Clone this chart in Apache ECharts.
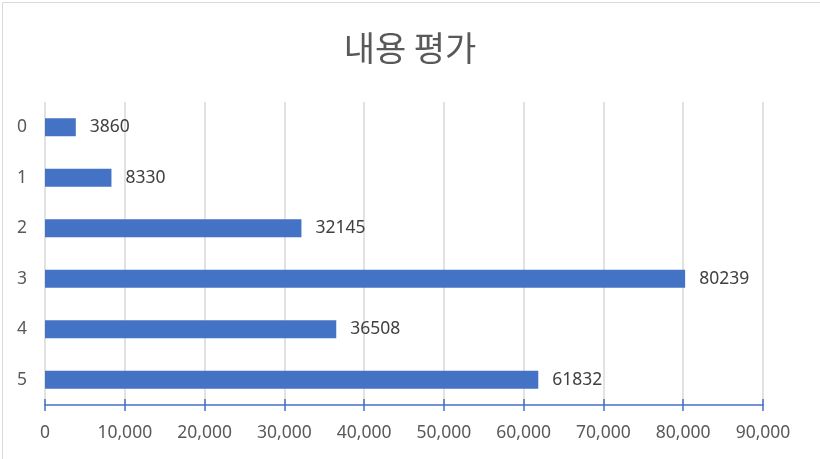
<!DOCTYPE html>
<html><head><meta charset="utf-8">
<script src="https://cdn.jsdelivr.net/npm/echarts@6/dist/echarts.min.js"></script>
<style>html,body{margin:0;padding:0;background:#fff}#c{width:820px;height:459px}</style>
</head><body><div id="c"></div>
<script>
const title = '내용 평가';
const categories = ['0', '1', '2', '3', '4', '5'];
const values = [3860, 8330, 32145, 80239, 36508, 61832];
const xMin = 0, xMax = 90000, xStep = 10000;

const font = '"Noto Sans", "Noto Sans CJK KR", sans-serif';
const chart = echarts.init(document.getElementById('c'));
chart.setOption({
  animation: false,
  textStyle: { fontFamily: font },
  title: {
    text: title, left: 'center', top: 26,
    textStyle: { fontFamily: '"Noto Sans CJK KR", sans-serif', fontSize: 34, fontWeight: 'normal', color: '#595959' }
  },
  graphic: [{
    type: 'rect', left: 0, top: 0, silent: true, z: -1,
    shape: { x: 0.5, y: 0.5, width: 819, height: 457 },
    style: { fill: 'none', stroke: '#d9d9d9', lineWidth: 1 }
  }],
  grid: { left: 45, right: 57, top: 102, bottom: 54, containLabel: false },
  xAxis: [{
    type: 'value', min: xMin, max: xMax, interval: xStep, position: 'bottom',
    axisLine: { show: true, lineStyle: { color: '#4472C4', width: 1.5 } },
    axisTick: { show: true, length: 6, lineStyle: { color: '#4472C4', width: 1.5 } },
    splitLine: { show: true, lineStyle: { color: '#d9d9d9', width: 1.5 } },
    axisLabel: {
      fontSize: 17.5, color: '#595959', margin: 19, fontFamily: font,
      formatter: v => v.toLocaleString('en-US')
    }
  }, {
    type: 'value', min: xMin, max: xMax, interval: xStep, position: 'bottom',
    axisLine: { show: false },
    axisTick: { show: true, inside: true, length: 6, lineStyle: { color: '#4472C4', width: 1.5 } },
    splitLine: { show: false },
    axisLabel: { show: false }
  }],
  yAxis: {
    type: 'category', data: categories, inverse: true,
    axisLine: { show: false }, axisTick: { show: false },
    axisLabel: { fontSize: 17.5, color: '#595959', margin: 18, fontFamily: font }
  },
  series: [{
    type: 'bar', data: values, barWidth: 18, xAxisIndex: 0,
    itemStyle: { color: '#4472C4' },
    label: { show: true, position: 'right', distance: 14, fontSize: 17.5, color: '#404040', fontFamily: font }
  }]
});
</script></body></html>
